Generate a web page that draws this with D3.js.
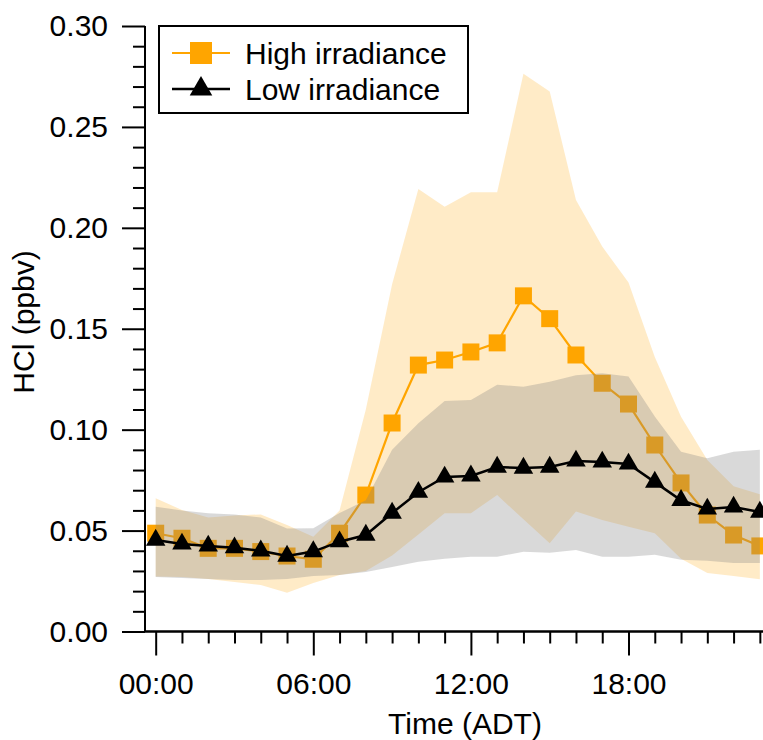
<!DOCTYPE html>
<html>
<head>
<meta charset="utf-8">
<script src="https://cdnjs.cloudflare.com/ajax/libs/d3/7.8.5/d3.min.js"></script>
<style>
  html, body { margin: 0; padding: 0; background: #fff; overflow: hidden; }
  svg { display: block; font-family: Arial, "Liberation Sans", sans-serif; }
</style>
</head>
<body>
<svg id="chart" width="763" height="740"></svg>
<script>
const hours = d3.range(0, 24);
const highMean  = [0.0487,0.0462,0.0412,0.0412,0.0396,0.0374,0.0358,0.0487,0.0676,0.1033,0.132,0.1345,0.1385,0.143,0.1663,0.155,0.137,0.123,0.1127,0.0924,0.0736,0.0577,0.0478,0.0424];
const lowMean   = [0.0453,0.0434,0.0424,0.0415,0.040,0.0374,0.0396,0.0445,0.0478,0.0587,0.069,0.0766,0.0771,0.0815,0.081,0.0815,0.0845,0.084,0.083,0.074,0.065,0.0607,0.0617,0.0592];
const highUpper = [0.066,0.0602,0.0565,0.0575,0.058,0.0528,0.047,0.060,0.110,0.172,0.2193,0.2105,0.2176,0.2176,0.2763,0.2675,0.2138,0.1907,0.1729,0.136,0.1064,0.085,0.072,0.068];
const highLower = [0.0272,0.027,0.026,0.0245,0.023,0.0192,0.024,0.028,0.030,0.0376,0.048,0.0586,0.0586,0.0676,0.0556,0.0437,0.0594,0.0553,0.0519,0.0487,0.036,0.029,0.0275,0.0259];
const lowUpper  = [0.0618,0.060,0.0586,0.058,0.0565,0.051,0.0511,0.0587,0.065,0.090,0.1032,0.1142,0.1147,0.1222,0.1213,0.1238,0.127,0.128,0.1263,0.1065,0.089,0.0858,0.089,0.090];
const lowLower  = [0.027,0.0265,0.026,0.0255,0.0255,0.026,0.0275,0.028,0.0295,0.032,0.0346,0.036,0.037,0.037,0.0395,0.039,0.0404,0.037,0.037,0.038,0.0355,0.035,0.034,0.034];
const seriesNames = ["High irradiance", "Low irradiance"];
const yTickLabels = ["0.00","0.05","0.10","0.15","0.20","0.25","0.30"];
const xTickLabels = ["00:00","06:00","12:00","18:00"];

const svg = d3.select("#chart");
const x = d3.scaleLinear().domain([-0.407, 23.12]).range([145, 763]);
const y = d3.scaleLinear().domain([0, 0.30]).range([631.5, 26]);

const ORANGE = "#FFA500";

const areaGen = (up, lo) => d3.area()
  .x((d, i) => x(hours[i]))
  .y0((d, i) => y(lo[i]))
  .y1((d, i) => y(up[i]))(hours);
const lineGen = vals => d3.line().x((d, i) => x(hours[i])).y((d, i) => y(vals[i]))(hours);

const plot = svg.append("g");
// High band
plot.append("path").attr("d", areaGen(highUpper, highLower))
  .attr("fill", ORANGE).attr("fill-opacity", 0.22);
// High line + markers
plot.append("path").attr("d", lineGen(highMean))
  .attr("fill", "none").attr("stroke", ORANGE).attr("stroke-width", 2.2);
const sq = d3.symbol().type(d3.symbolSquare).size(17 * 17);
plot.selectAll(".sq").data(hours).join("path")
  .attr("transform", (d, i) => `translate(${x(d)},${y(highMean[i])})`)
  .attr("d", sq).attr("fill", ORANGE);
// Low band (drawn over orange)
plot.append("path").attr("d", areaGen(lowUpper, lowLower))
  .attr("fill", "#808080").attr("fill-opacity", 0.3);
// Low line + markers
plot.append("path").attr("d", lineGen(lowMean))
  .attr("fill", "none").attr("stroke", "#000").attr("stroke-width", 2.5);
const tri = d3.symbol().type(d3.symbolTriangle).size(165);
plot.selectAll(".tri").data(hours).join("path")
  .attr("transform", (d, i) => `translate(${x(d)},${y(lowMean[i])})`)
  .attr("d", tri).attr("fill", "#000");

// Y axis
const yMajor = yTickLabels.map(Number);
const yMinor = d3.range(0, 31).map(v => v / 100).filter(v => Math.round(v * 100) % 5 !== 0);
const yMinorAxis = svg.append("g").attr("transform", "translate(145,0)")
  .call(d3.axisLeft(y).tickValues(yMinor).tickSize(12).tickFormat(""));
const yAxis = svg.append("g").attr("transform", "translate(145,0)")
  .call(d3.axisLeft(y).tickValues(yMajor).tickSize(23).tickPadding(14)
    .tickFormat((d, i) => yTickLabels[i]));
[yMinorAxis, yAxis].forEach(g => {
  g.selectAll("line").attr("stroke", "#000").attr("stroke-width", 2);
  g.select(".domain").attr("stroke", "#000").attr("stroke-width", 2).attr("d", `M0,${y(0.30)}V${y(0)}`);
});
yAxis.selectAll("text").attr("font-size", 30).attr("fill", "#000")
  .attr("font-family", 'Arial, "Liberation Sans", sans-serif');

// X axis
const xMajor = [0, 6, 12, 18];
const xMinor = hours.filter(h => h % 6 !== 0);
const xMinorAxis = svg.append("g").attr("transform", `translate(0,${y(0)})`)
  .call(d3.axisBottom(x).tickValues(xMinor).tickSize(12).tickFormat(""));
const xAxis = svg.append("g").attr("transform", `translate(0,${y(0)})`)
  .call(d3.axisBottom(x).tickValues(xMajor).tickSize(24).tickPadding(17)
    .tickFormat((d, i) => xTickLabels[i]));
[xMinorAxis, xAxis].forEach(g => {
  g.selectAll("line").attr("stroke", "#000").attr("stroke-width", 2);
  g.select(".domain").attr("stroke", "#000").attr("stroke-width", 2).attr("d", `M145,0H763`);
});
xAxis.selectAll("text").attr("font-size", 30).attr("fill", "#000")
  .attr("font-family", 'Arial, "Liberation Sans", sans-serif');

// Axis titles
svg.append("text").attr("x", 465).attr("y", 734).attr("text-anchor", "middle")
  .attr("font-size", 30).attr("fill", "#000").text("Time (ADT)");
svg.append("text").attr("transform", "translate(34,322) rotate(-90)")
  .attr("text-anchor", "middle").attr("font-size", 30).attr("fill", "#000").text("HCl (ppbv)");

// Legend
const leg = svg.append("g");
leg.append("rect").attr("x", 159).attr("y", 26).attr("width", 309).attr("height", 87)
  .attr("fill", "#fff").attr("stroke", "#000").attr("stroke-width", 2);
const rows = [
  {name: seriesNames[0], color: ORANGE, sym: d3.symbol().type(d3.symbolSquare).size(22 * 22), y: 53, sw: 2.2},
  {name: seriesNames[1], color: "#000", sym: d3.symbol().type(d3.symbolTriangle).size(220), y: 89, sw: 2.5}
];
rows.forEach(r => {
  leg.append("line").attr("x1", 172).attr("x2", 230).attr("y1", r.y).attr("y2", r.y)
    .attr("stroke", r.color).attr("stroke-width", r.sw);
  leg.append("path").attr("d", r.sym).attr("transform", `translate(201,${r.y})`).attr("fill", r.color);
  leg.append("text").attr("x", 245).attr("y", r.y + 10.5).attr("font-size", 30).attr("fill", "#000").text(r.name);
});
</script>
</body>
</html>
